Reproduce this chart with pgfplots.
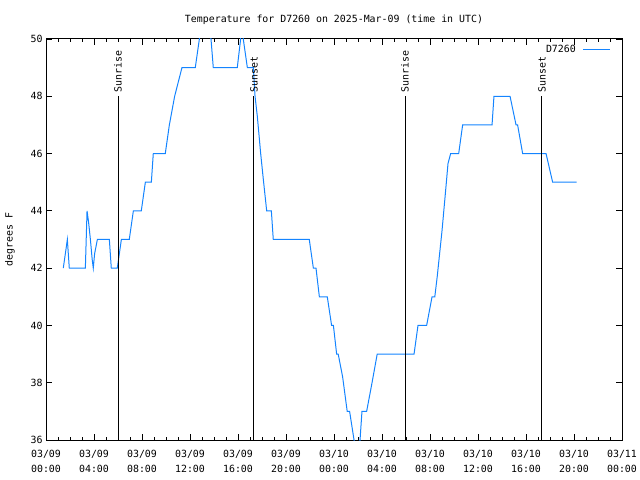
\documentclass[border=0pt]{standalone}
\usepackage{fontspec}
\setmainfont{DejaVu Sans Mono}
\usepackage{pgfplots}
\pgfplotsset{compat=1.18}
\definecolor{tline}{RGB}{20,132,255}
\begin{document}
\fontsize{9.9bp}{12bp}\selectfont
\begin{tikzpicture}
\useasboundingbox (-46bp,-40bp) rectangle (594bp,440bp);
\begin{axis}[
  scale only axis, width=576bp, height=401bp,
  xmin=0, xmax=48, ymin=36, ymax=50,
  xtick={0,4,...,48},
  xticklabels={{03/09\\00:00},{03/09\\04:00},{03/09\\08:00},{03/09\\12:00},{03/09\\16:00},{03/09\\20:00},{03/10\\00:00},{03/10\\04:00},{03/10\\08:00},{03/10\\12:00},{03/10\\16:00},{03/10\\20:00},{03/11\\00:00}},
  x tick label style={align=center, font=\fontsize{9.9bp}{15bp}\selectfont, yshift=-7bp},
  minor x tick num=3,
  ytick={36,38,...,50},
  tick align=inside,
  major tick length=6bp, minor tick length=3bp,
  tick style={black, line width=0.8bp},
  axis line style={line width=1bp},
  /pgf/number format/assume math mode=true,
  tick label style={font=\fontsize{9.9bp}{15bp}\selectfont},
  title={Temperature for D7260 on 2025-Mar-09 (time in UTC)},
  title style={at={(0.5,1)}, anchor=center, yshift=13bp},
  ylabel={degrees F},
  ylabel style={at={(axis description cs:-0.0625,0.5)}, anchor=center},
  legend plot pos=right,
  legend cell align=right,
  legend style={at={(rel axis cs:1,1)}, anchor=north east, draw=none, fill=none, xshift=-8bp, yshift=-2bp, font=\fontsize{9.9bp}{12bp}\selectfont},
  legend image code/.code={\path (0bp,0bp); \draw[#1] (5bp,0bp) -- (32bp,0bp);},
]
\addplot[color=tline, line width=1bp] coordinates {
(1.44,42) (1.78,43) (1.94,42) (3.28,42) (3.42,44) (3.55,43.6) (3.7,43) (3.85,42.3) (3.94,42) (4.05,42.5) (4.28,43)
(5.28,43) (5.44,42) (5.94,42) (6.28,43) (6.94,43) (7.28,44) (7.94,44) (8.28,45) (8.78,45) (8.94,46) (9.94,46)
(10.28,47) (10.72,48) (11.33,49) (12.44,49) (12.78,50) (13.0,51) (13.5,51) (13.75,50) (13.94,49) (15.94,49)
(16.22,50) (16.33,50.4) (16.44,50) (16.78,49) (17.28,49) (17.42,48) (17.61,47.3) (17.89,46) (18.11,45.1)
(18.39,44) (18.78,44) (18.94,43) (21.94,43) (22.28,42) (22.5,42) (22.78,41) (23.44,41) (23.8,40) (23.95,40)
(24.22,39) (24.35,39) (24.72,38.2) (25.1,37) (25.3,37) (25.67,36) (25.8,35.5) (26.05,35.5) (26.17,36) (26.33,37)
(26.72,37) (27.17,38) (27.6,39) (30.67,39) (31.0,40) (31.22,40) (31.72,40) (32.17,41) (32.4,41) (32.6,41.7)
(33.0,43.3) (33.3,44.7) (33.5,45.65) (33.72,46) (34.39,46) (34.72,47) (37.17,47) (37.33,48) (38.67,48)
(39.17,47) (39.3,47) (39.72,46) (41.67,46) (42.22,45) (44.22,45)
};
\addlegendentry{D7260}
\draw[black, line width=1bp] (axis cs:6,36) -- (axis cs:6,48);
\draw[black, line width=1bp] (axis cs:17.33,36) -- (axis cs:17.33,48);
\draw[black, line width=1bp] (axis cs:29.92,36) -- (axis cs:29.92,48);
\draw[black, line width=1bp] (axis cs:41.33,36) -- (axis cs:41.33,48);
\node[rotate=90, anchor=west, inner sep=0pt] at ([yshift=4bp]axis cs:6,48) {Sunrise};
\node[rotate=90, anchor=west, inner sep=0pt] at ([yshift=4bp]axis cs:17.33,48) {Sunset};
\node[rotate=90, anchor=west, inner sep=0pt] at ([yshift=4bp]axis cs:29.92,48) {Sunrise};
\node[rotate=90, anchor=west, inner sep=0pt] at ([yshift=4bp]axis cs:41.33,48) {Sunset};
\end{axis}
\end{tikzpicture}
\end{document}
